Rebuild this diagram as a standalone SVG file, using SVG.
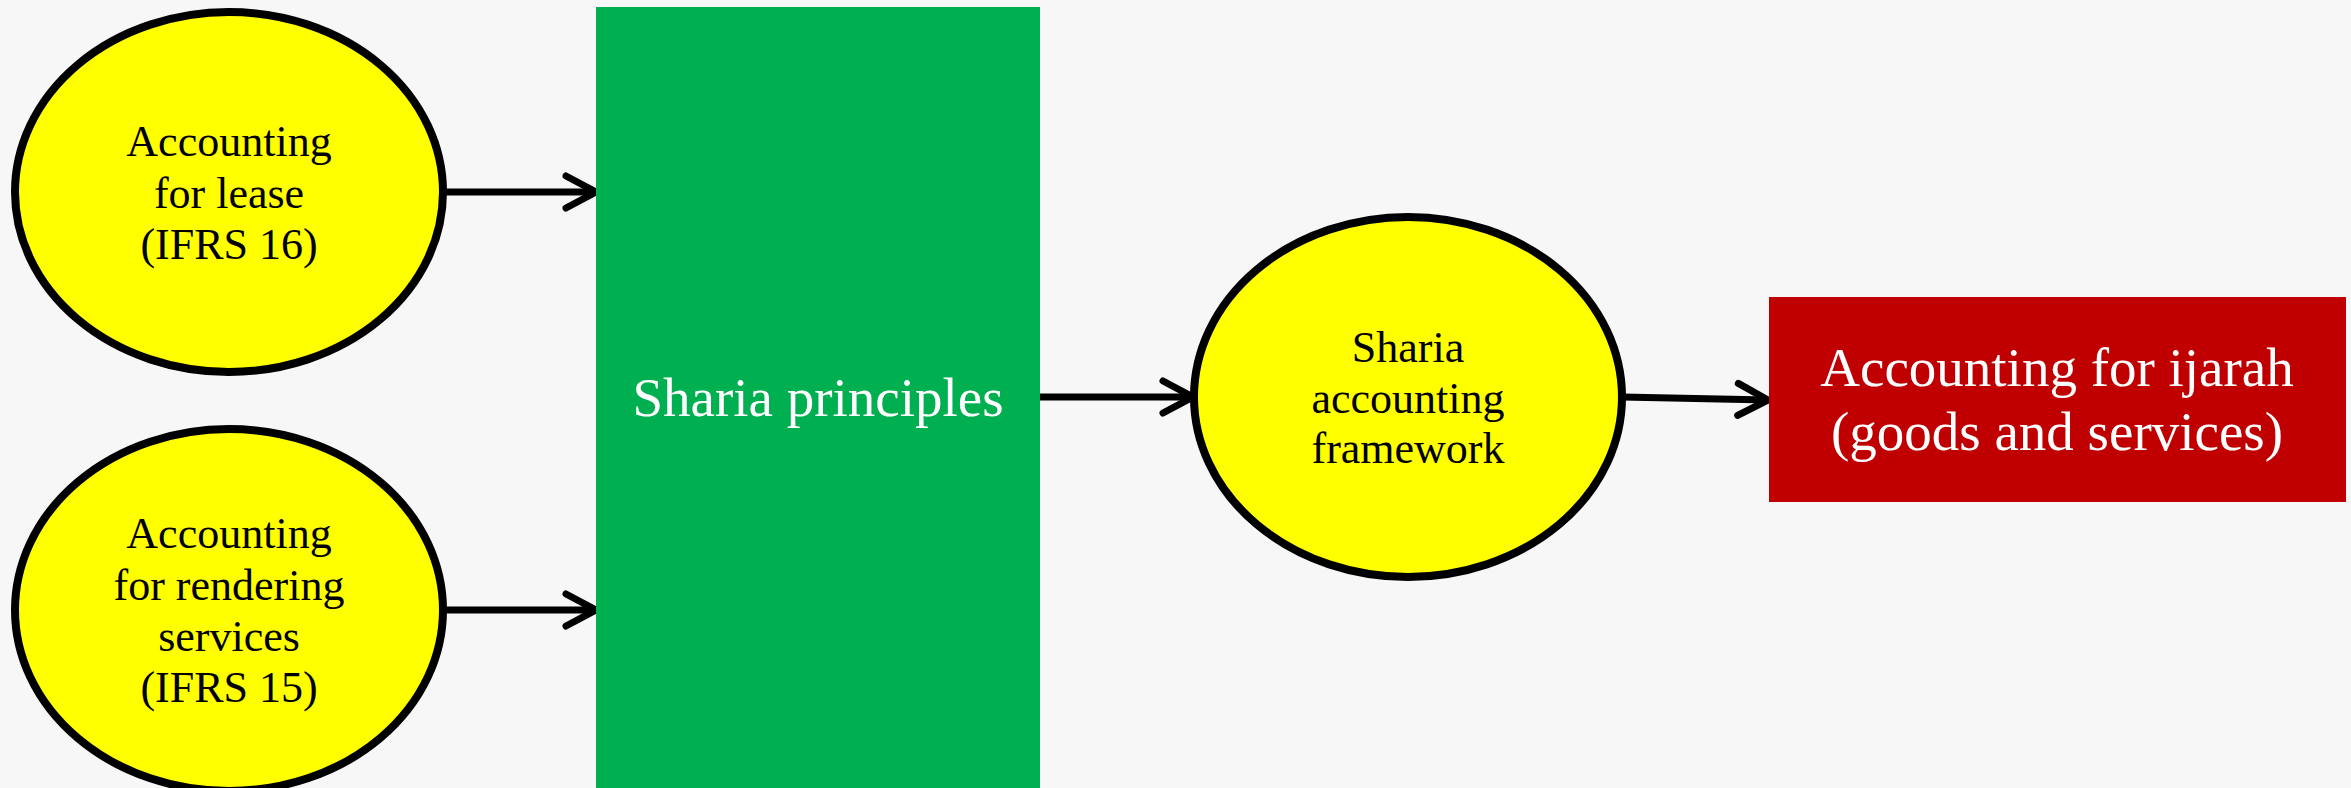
<svg xmlns="http://www.w3.org/2000/svg" width="2351" height="788" viewBox="0 0 2351 788">
<defs>
<style>
.ell{fill:#FFFF00;stroke:#000;stroke-width:8}
.t{font-family:"Liberation Serif","Times New Roman",serif;text-anchor:middle}
.tb{font-size:44px;fill:#000}
.tw{font-size:55px;fill:#fff}
.con{stroke:#000;stroke-width:7;fill:none}
</style>
<marker id="arr" markerUnits="userSpaceOnUse" markerWidth="40" markerHeight="40" refX="33" refY="17" orient="auto" overflow="visible">
<path d="M3,1 L33,17 L3,33" fill="none" stroke="#000" stroke-width="7" stroke-linecap="round" stroke-linejoin="miter"/>
</marker>
</defs>
<rect width="2351" height="788" fill="#F7F7F7"/>
<g id="connectors">
<line class="con" x1="444" y1="192" x2="596" y2="192" marker-end="url(#arr)"/>
<line class="con" x1="444" y1="610" x2="596" y2="610" marker-end="url(#arr)"/>
<line class="con" x1="1040" y1="397" x2="1193" y2="397" marker-end="url(#arr)"/>
<line class="con" x1="1622" y1="397" x2="1768" y2="400" marker-end="url(#arr)"/>
</g>
<g id="node-lease">
<ellipse class="ell" cx="229" cy="192" rx="214" ry="180"/>
<text class="t tb" x="229" y="156">Accounting</text>
<text class="t tb" x="229" y="208">for lease</text>
<text class="t tb" x="229" y="259">(IFRS 16)</text>
</g>
<g id="node-services">
<ellipse class="ell" cx="229" cy="610" rx="214" ry="181"/>
<text class="t tb" x="229" y="548">Accounting</text>
<text class="t tb" x="229" y="600">for rendering</text>
<text class="t tb" x="229" y="651">services</text>
<text class="t tb" x="229" y="702">(IFRS 15)</text>
</g>
<g id="node-sharia-principles">
<rect x="596" y="7" width="444" height="790" fill="#00AF50"/>
<text class="t tw" x="818" y="416">Sharia principles</text>
</g>
<g id="node-framework">
<ellipse class="ell" cx="1408" cy="397" rx="214" ry="180"/>
<text class="t tb" x="1408" y="362">Sharia</text>
<text class="t tb" x="1408" y="413">accounting</text>
<text class="t tb" x="1408" y="463">framework</text>
</g>
<g id="node-ijarah">
<rect x="1769" y="297" width="577" height="205" fill="#C00000"/>
<text class="t tw" x="2057" y="386">Accounting for ijarah</text>
<text class="t tw" x="2057" y="450">(goods and services)</text>
</g>
</svg>
